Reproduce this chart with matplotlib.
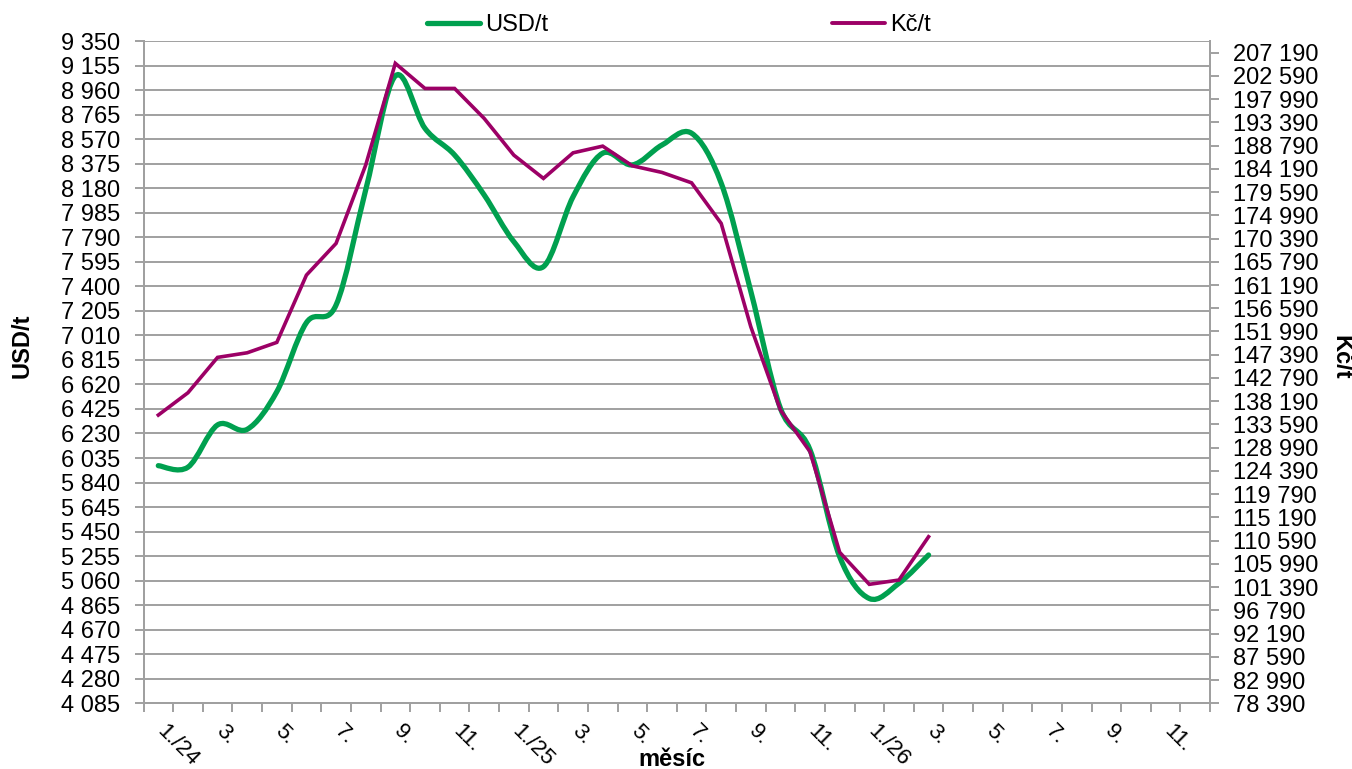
import numpy as np
import matplotlib
matplotlib.use("Agg")
import matplotlib.pyplot as plt
from matplotlib.path import Path
from matplotlib.patches import PathPatch
from matplotlib.lines import Line2D
from matplotlib.transforms import ScaledTranslation

plt.rcParams['font.family'] = ['Liberation Sans', 'DejaVu Sans']

# ---------------- data ----------------
tick_labels = ["1./24", "3.", "5.", "7.", "9.", "11.",
               "1./25", "3.", "5.", "7.", "9.", "11.",
               "1./26", "3.", "5.", "7.", "9.", "11."]
n_months = 36
usd_t = [5974, 5962, 6298, 6263, 6562, 7111, 7251, 8166, 9072, 8656,
         8444, 8126, 7755, 7556, 8112, 8458, 8365, 8523, 8617, 8220,
         7360, 6430, 6099, 5250, 4918, 5039, 5264]
czk_t = [135445, 139858, 146863, 147774, 149832, 163151, 169424, 184920,
         205068, 200099, 200099, 194162, 186899, 182288, 187354, 188680,
         184781, 183475, 181417, 173382, 152919, 136434, 128182, 108273,
         101940, 102791, 111360]
usd_min, usd_max, usd_step = 4085, 9350, 195
czk_min, czk_step, czk_nticks = 78390, 4600, 29

GREEN = '#00A04F'
PURPLE = '#9C0066'
GRID = '#A0A0A0'
FS = 17
FSX = 16

fig = plt.figure(figsize=(13.52, 7.69), dpi=100)
ax = fig.add_axes([143.5 / 1352, 1 - 703.3 / 769, (1210 - 143.5) / 1352, (703.3 - 41) / 769])
ax2 = ax.twinx()


def fmt(v):
    return f"{int(v):,}".replace(",", " ")


# left axis
yt = np.arange(usd_min, usd_max + 1, usd_step)
ax.set_ylim(usd_min, usd_max)
ax.set_yticks(yt)
ax.set_yticklabels([fmt(v) for v in yt], fontsize=FS)
ax.yaxis.grid(True, color=GRID, lw=1.4)
ax.set_axisbelow(True)

# right axis
yt2 = czk_min + czk_step * np.arange(czk_nticks)
top2 = czk_min + (czk_nticks - 1 + 0.5) * czk_step
ax2.set_ylim(czk_min, top2)
ax2.set_yticks(yt2)
ax2.set_yticklabels([fmt(v) for v in yt2], fontsize=FS)

# x axis: ticks at month boundaries, labels every second month (rotated)
ax.set_xlim(-0.5, n_months - 0.5)
centers = np.arange(0, n_months, 2)
ax.set_xticks(np.arange(-0.5, n_months, 1))
ax.set_xticklabels([])
ax.tick_params(axis='x', length=6.5, color=GRID, width=1.4, direction='out')
label_tr = ax.get_xaxis_transform() + ScaledTranslation(9 / 100, -17 / 100, fig.dpi_scale_trans)
for c, lab in zip(centers, tick_labels):
    ax.text(c, 0, lab, transform=label_tr, fontsize=FSX, rotation=-45,
            ha='left', va='top', rotation_mode='anchor')

ax.tick_params(axis='y', length=6.5, color=GRID, width=1.4, pad=10)
ax2.tick_params(axis='y', length=6.5, color=GRID, width=1.4, pad=10)

for a in (ax, ax2):
    a.spines['top'].set_visible(False)
    for s in ('left', 'right', 'bottom'):
        a.spines[s].set_color(GRID)
        a.spines[s].set_linewidth(1.4)

# smoothed USD line (Excel-like bezier smoothing)
x = np.arange(len(usd_t), dtype=float)
y = np.array(usd_t, dtype=float)
P = np.column_stack([x, y])
verts = [tuple(P[0])]
codes = [Path.MOVETO]
n = len(P)
for i in range(n - 1):
    p0 = P[i]
    p3 = P[i + 1]
    pm = P[i - 1] if i > 0 else P[i]
    p4 = P[i + 2] if i + 2 < n else P[i + 1]
    c1 = p0 + (p3 - pm) / 6.0
    c2 = p3 - (p4 - p0) / 6.0
    verts += [tuple(c1), tuple(c2), tuple(p3)]
    codes += [Path.CURVE4] * 3
patch = PathPatch(Path(verts, codes), fill=False, edgecolor=GREEN, lw=3.8,
                  capstyle='round', joinstyle='round')
ax.add_patch(patch)

# CZK line (straight)
ax2.plot(np.arange(len(czk_t)), czk_t, color=PURPLE, lw=2.6, solid_joinstyle='miter')

# axis titles
fig.text(22 / 1352, 1 - 346 / 769, "USD/t", rotation=90, ha='center', va='center',
         fontsize=FS, fontweight='bold')
fig.text(1341 / 1352, 1 - 357 / 769, "Kč/t", rotation=270, ha='center', va='center',
         fontsize=FS, fontweight='bold')
fig.text(672 / 1352, 1 - 759 / 769, "měsíc", ha='center', va='center',
         fontsize=FS, fontweight='bold')

# legends
h1 = Line2D([], [], color=GREEN, lw=3.8, solid_capstyle='round')
h2 = Line2D([], [], color=PURPLE, lw=2.8, solid_capstyle='round')
for h, lab, xpos in ((h1, "USD/t", 427), (h2, "Kč/t", 832)):
    fig.legend([h], [lab], loc='center left', bbox_to_anchor=(xpos / 1352, 1 - 25 / 769),
               frameon=False, fontsize=FS, handlelength=2.25, handletextpad=0.2,
               borderpad=0, borderaxespad=0)

fig.savefig('out.png', dpi=100)
